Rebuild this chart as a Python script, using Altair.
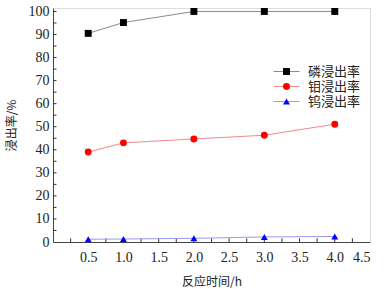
import altair as alt
import pandas as pd

times = [0.5, 1.0, 2.0, 3.0, 4.0]
series_names = ["磷浸出率", "钼浸出率", "钨浸出率"]
p_vals = [90.5, 95.2, 100.0, 100.0, 100.0]
mo_vals = [39.0, 43.0, 44.7, 46.3, 51.1]
w_vals = [1.2, 1.3, 1.6, 2.2, 2.4]
x_labels = [0.5, 1.0, 1.5, 2.0, 2.5, 3.0, 3.5, 4.0, 4.5]
y_labels = [0, 10, 20, 30, 40, 50, 60, 70, 80, 90, 100]
x_minor = [i * 0.25 for i in range(1, 18)]
y_minor = [i * 5 for i in range(1, 21)]
tick_len_y = [0.0, 1.6]
tick_len_x = [0.0, 0.05]

rows = []
for name, vals in zip(series_names, [p_vals, mo_vals, w_vals]):
    for t, v in zip(times, vals):
        rows.append({"t": t, "v": v, "s": name})
df = pd.DataFrame(rows)

xtick_df = pd.DataFrame({"t": x_minor, "v": [tick_len_y[0]] * len(x_minor), "v2": [tick_len_y[1]] * len(x_minor)})
ytick_df = pd.DataFrame({"v": y_minor, "t": [tick_len_x[0]] * len(y_minor), "t2": [tick_len_x[1]] * len(y_minor)})

line_colors = ["#8a8a8a", "#f08a8a", "#9a9af0"]
fill_colors = ["#000000", "#ff0000", "#0000ff"]
shapes = ["square", "circle", "triangle-up"]

serif = "Liberation Serif"
cjk = "Noto Sans CJK SC"

xs = alt.Scale(domain=[0, 4.5], nice=False, zero=False)
ys = alt.Scale(domain=[0, 101.5], nice=False, zero=False)

x_enc = alt.X("t:Q", scale=xs,
              axis=alt.Axis(values=x_labels, format=".1f", title="反应时间/h", orient="bottom",
                            ticks=False, grid=False, domainColor="#444", labelOverlap=False,
                            labelFont=serif, labelFontSize=14, labelColor="#222",
                            labelPadding=8, titleFont=cjk, titleFontSize=12,
                            titleFontWeight="normal", titleColor="#222", titlePadding=12))
y_enc = alt.Y("v:Q", scale=ys,
              axis=alt.Axis(values=y_labels, title="浸出率/%", ticks=False, grid=False,
                            orient="left", labelOverlap=False,
                            domainColor="#444", labelFont=serif, labelFontSize=14,
                            labelColor="#222", labelPadding=4, titleFont=cjk,
                            titleFontSize=12, titleFontWeight="normal", titleColor="#222",
                            titlePadding=10))

# inward tick marks along the axes
xt = alt.Chart(xtick_df).mark_rule(color="#333", strokeWidth=1, clip=False).encode(
    x=x_enc, y=y_enc, y2="v2:Q")
yt = alt.Chart(ytick_df).mark_rule(color="#333", strokeWidth=1, clip=False).encode(
    y=y_enc, x=x_enc, x2="t2:Q")

base = alt.Chart(df)

lines = base.mark_line(strokeWidth=1).encode(
    x=x_enc, y=y_enc,
    stroke=alt.Stroke("s:N", scale=alt.Scale(domain=series_names, range=line_colors),
                      legend=alt.Legend(title=None, orient="none", legendX=227, legendY=57,
                                        symbolType="M-5,0H5", symbolSize=27, symbolStrokeWidth=1,
                                        labelOpacity=0, labelFont=cjk, labelFontSize=13,
                                        rowPadding=1, labelOffset=15, padding=0)),
)

pt_legend = alt.Legend(title=None, orient="none", legendX=227, legendY=57,
                       symbolSize=48, symbolStrokeWidth=0,
                       labelFont=cjk, labelFontSize=13, labelColor="#222",
                       rowPadding=1, labelOffset=15, padding=0)

points = base.mark_point(filled=True, size=48, opacity=1).encode(
    x=x_enc, y=y_enc,
    fill=alt.Fill("s:N", scale=alt.Scale(domain=series_names, range=fill_colors), legend=pt_legend),
    shape=alt.Shape("s:N", scale=alt.Scale(domain=series_names, range=shapes), legend=pt_legend),
)

chart = alt.layer(xt, yt, lines, points).resolve_legend(
    stroke="independent", shape="independent", fill="independent"
).properties(
    width=317, height=234,
    padding={"left": 53, "top": 8, "right": 14, "bottom": 47},
    autosize=alt.AutoSizeParams(type="none"),
).configure_view(stroke="#555", strokeWidth=1).configure(background="white")

chart.save("out.html", embed_options={"renderer": "svg", "actions": False})
